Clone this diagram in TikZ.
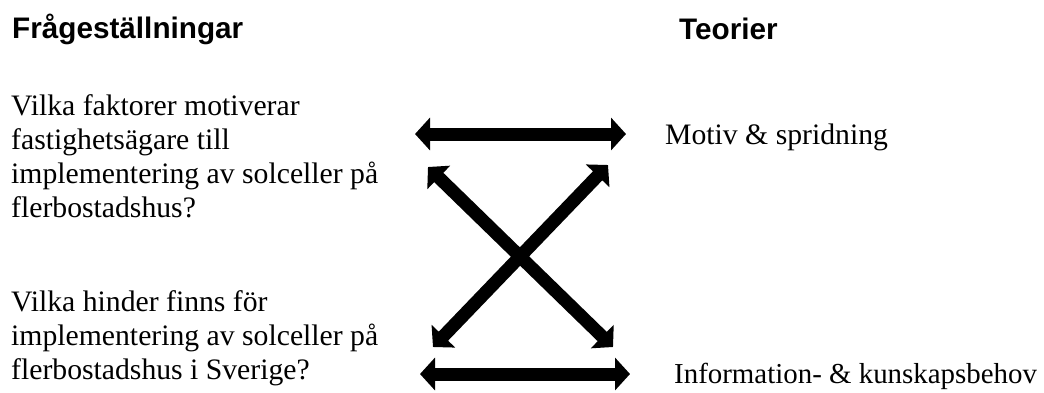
\documentclass[tikz,border=0pt]{standalone}
\usepackage{fontspec}
\setmainfont{Liberation Serif}
\newfontfamily\headfont{Liberation Sans}
\usetikzlibrary{arrows.meta}
\tikzset{
  body/.style={inner sep=0pt, font=\fontsize{29.7}{34}\selectfont, align=left},
  head/.style={inner sep=0pt, font=\headfont\bfseries\fontsize{29.7}{34}\selectfont},
  bigarrow/.style={line width=13pt, {Triangle[width=32pt,length=15pt]}-{Triangle[width=32pt,length=15pt]}}
}
\begin{document}
\begin{tikzpicture}[x=1pt,y=-1pt]
\useasboundingbox (0,0) rectangle (1044,392);
\node[head, anchor=base west] (h1) at (12,38) {Frågeställningar};
\node[head, anchor=base west] (h2) at (679,39) {Teorier};
\node[body, anchor=base west] (q1a) at (11,115) {Vilka faktorer motiverar};
\node[body, anchor=base west] (q1b) at (11,149) {fastighetsägare till};
\node[body, anchor=base west] (q1c) at (11,183) {implementering av solceller på};
\node[body, anchor=base west] (q1d) at (11,217) {flerbostadshus?};
\node[body, anchor=base west] (q2a) at (11,311) {Vilka hinder finns för};
\node[body, anchor=base west] (q2b) at (11,345) {implementering av solceller på};
\node[body, anchor=base west] (q2c) at (11,379) {flerbostadshus i Sverige?};
\node[body, anchor=base west] (t1) at (665,144) {Motiv \& spridning};
\node[body, anchor=base west, font=\fontsize{28.9}{34}\selectfont] (t2) at (674,383) {Information- \& kunskapsbehov};
\coordinate (T1) at (415,134);
\coordinate (T2) at (626,134);
\coordinate (B1) at (420,374);
\coordinate (B2) at (630,374);
\coordinate (D1) at (428,167);
\coordinate (D2) at (613,347);
\coordinate (D3) at (608,165);
\coordinate (D4) at (433,347);
\draw[bigarrow] (T1) -- (T2);
\draw[bigarrow] (B1) -- (B2);
\draw[bigarrow] (D1) -- (D2);
\draw[bigarrow] (D3) -- (D4);
\end{tikzpicture}
\end{document}
